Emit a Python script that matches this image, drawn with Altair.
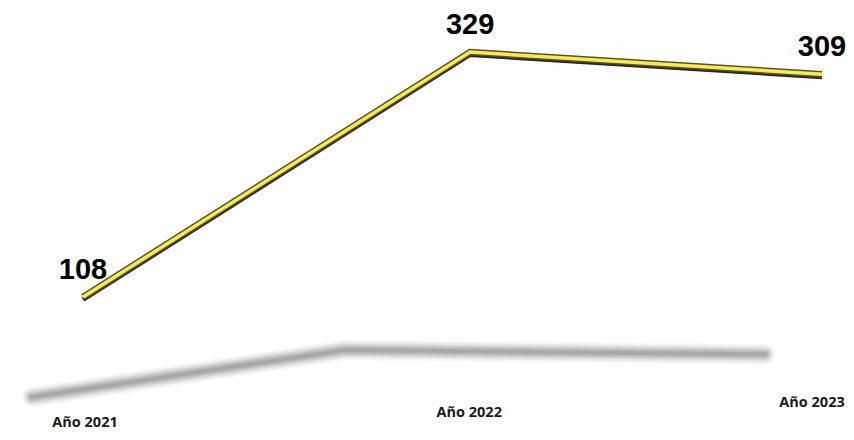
import altair as alt
import pandas as pd

years = ["Año 2021", "Año 2022", "Año 2023"]
values = [108, 329, 309]
idx = [0, 1, 2]

df = pd.DataFrame({"year": years, "value": values, "idx": idx})

base = alt.Chart(df)

# main line scales
x_main = alt.X("idx:Q", scale=alt.Scale(type="pow", exponent=0.933, domain=[0, 2], range=[75, 814]), axis=None)
y_main = alt.Y("value:Q", scale=alt.Scale(domain=[108, 329], range=[289, 44]), axis=None)

# reflection (floor shadow) scales
x_sh = alt.X("idx:Q", scale=alt.Scale(type="pow", exponent=1.228, domain=[0, 2], range=[24, 757]), axis=None)
y_sh = alt.Y("value:Q", scale=alt.Scale(domain=[108, 329], range=[389, 342]), axis=None)

shadow_layers = [
    base.mark_line(color="#808080", strokeWidth=w, opacity=o, strokeCap="round").encode(x=x_sh, y=y_sh, order="idx:Q")
    for w, o in [(20, 0.08), (16, 0.12), (12, 0.2), (8, 0.26), (4, 0.32)]
]

dark = base.mark_line(color="#111111", strokeWidth=5, yOffset=2.5, opacity=0.9).encode(x=x_main, y=y_main, order="idx:Q")
edge = base.mark_line(color="#5e5320", strokeWidth=6.5).encode(x=x_main, y=y_main, order="idx:Q")
yellow = base.mark_line(color="#F5EC5C", strokeWidth=3.5).encode(x=x_main, y=y_main, order="idx:Q")

val_text = base.mark_text(
    font="Liberation Sans", fontWeight="bold", fontSize=29, color="#000000",
    align="center", baseline="alphabetic", dy=-18
).encode(x=x_main, y=y_main, text="value:Q")

year_text = base.mark_text(
    font="Open Sans", fontWeight="bold", fontSize=14.5, color="#1a1a1a",
    align="center", baseline="alphabetic"
).encode(
    x=alt.X("idx:Q", scale=alt.Scale(type="pow", exponent=0.92, domain=[0, 2], range=[77, 804]), axis=None),
    y=alt.Y("idx:Q", scale=alt.Scale(domain=[0, 2], range=[419, 399]), axis=None),
    text="year:N",
)

chart = alt.layer(
    *shadow_layers, dark, edge, yellow, val_text, year_text
).resolve_scale(x="independent", y="independent").properties(
    width=838, height=424, autosize=alt.AutoSizeParams(type="none"), padding=0
).configure_view(stroke=None)

chart.save("out.html", embed_options={"renderer": "svg", "actions": False})
